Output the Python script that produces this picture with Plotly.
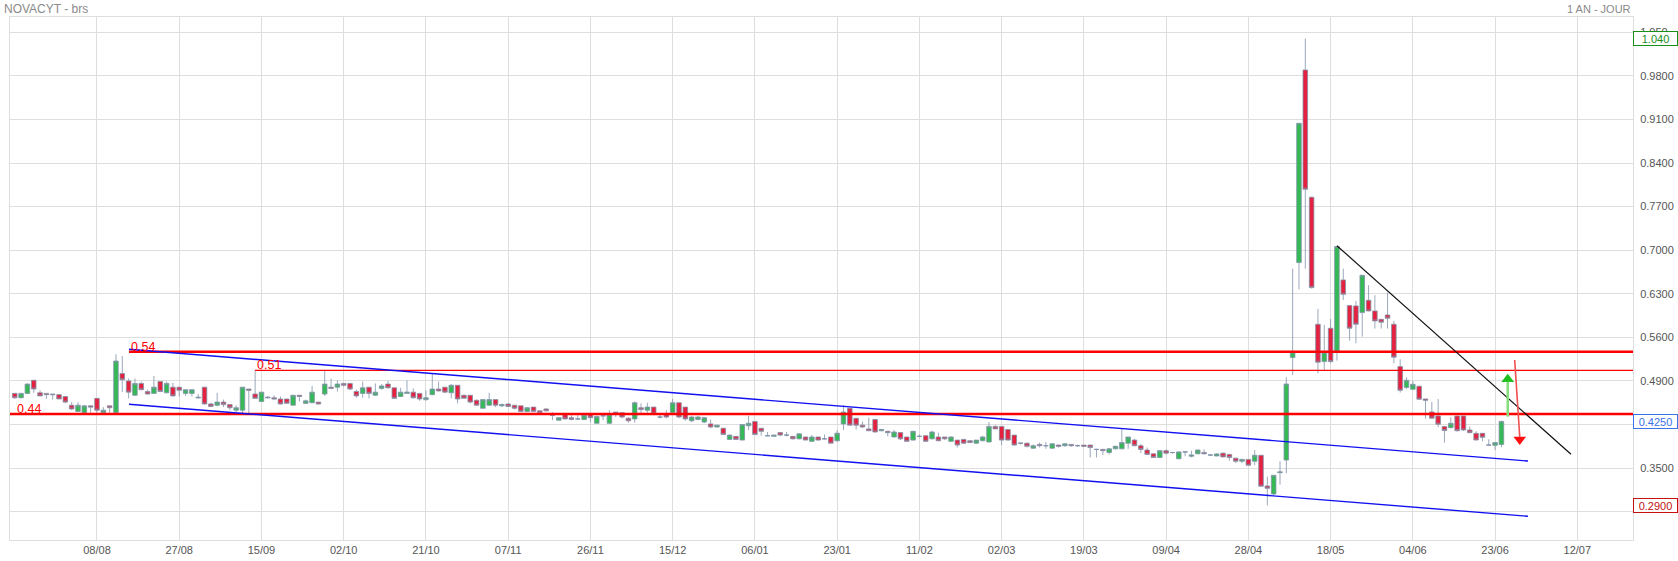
import plotly.graph_objects as go

# ---------------- data ----------------
OPEN = [
    0.470, 0.463, 0.470, 0.491, 0.471, 0.470, 0.469, 0.468, 0.465, 0.451,
    0.441, 0.439, 0.450, 0.462, 0.439, 0.450, 0.439, 0.502, 0.490, 0.467,
    0.486, 0.473, 0.470, 0.489, 0.471, 0.480, 0.480, 0.470, 0.470, 0.464,
    0.480, 0.453, 0.451, 0.456, 0.452, 0.443, 0.443, 0.477, 0.469, 0.457,
    0.464, 0.463, 0.461, 0.461, 0.451, 0.467, 0.454, 0.455, 0.456, 0.469,
    0.480, 0.480, 0.486, 0.486, 0.473, 0.470, 0.480, 0.467, 0.478, 0.485,
    0.479, 0.465, 0.470, 0.472, 0.470, 0.460, 0.468, 0.477, 0.480, 0.471,
    0.483, 0.467, 0.467, 0.459, 0.446, 0.451, 0.460, 0.450, 0.453, 0.451,
    0.450, 0.441, 0.448, 0.442, 0.445, 0.435, 0.427, 0.436, 0.431, 0.429,
    0.428, 0.436, 0.422, 0.434, 0.422, 0.440, 0.439, 0.430, 0.429, 0.447,
    0.443, 0.448, 0.432, 0.436, 0.439, 0.455, 0.448, 0.426, 0.428, 0.424,
    0.421, 0.416, 0.414, 0.396, 0.401, 0.395, 0.418, 0.425, 0.414, 0.402,
    0.401, 0.407, 0.403, 0.401, 0.397, 0.400, 0.393, 0.400, 0.397, 0.400,
    0.394, 0.421, 0.446, 0.430, 0.419, 0.413, 0.428, 0.410, 0.409, 0.400,
    0.407, 0.400, 0.395, 0.401, 0.402, 0.397, 0.400, 0.400, 0.393, 0.395,
    0.396, 0.394, 0.390, 0.394, 0.392, 0.417, 0.417, 0.412, 0.403, 0.390,
    0.390, 0.382, 0.388, 0.386, 0.382, 0.387, 0.386, 0.388, 0.386, 0.387,
    0.387, 0.380, 0.380, 0.375, 0.381, 0.381, 0.390, 0.395, 0.386, 0.379,
    0.373, 0.367, 0.378, 0.375, 0.365, 0.376, 0.369, 0.373, 0.375, 0.371,
    0.3695, 0.374, 0.372, 0.366, 0.361, 0.364, 0.361, 0.3706, 0.3213, 0.3084,
    0.3427, 0.3630, 0.5275, 0.6801, 0.9895, 0.7850, 0.5810, 0.5211, 0.5746, 0.5382,
    0.6522, 0.6110, 0.6105, 0.5998, 0.6196, 0.6024, 0.5891, 0.5960, 0.5810, 0.5131,
    0.4793, 0.4766, 0.4815, 0.4611, 0.4402, 0.4338, 0.4167, 0.4150, 0.4337, 0.4337,
    0.4112, 0.4059, 0.4059, 0.3871, 0.3866, 0.388,
]
HIGH = [
    0.471, 0.471, 0.486, 0.492, 0.475, 0.470, 0.469, 0.469, 0.465, 0.456,
    0.456, 0.451, 0.450, 0.462, 0.448, 0.450, 0.533, 0.530, 0.494, 0.494,
    0.489, 0.476, 0.498, 0.489, 0.489, 0.487, 0.480, 0.476, 0.476, 0.469,
    0.480, 0.455, 0.471, 0.460, 0.452, 0.451, 0.480, 0.477, 0.508, 0.472,
    0.466, 0.467, 0.465, 0.461, 0.467, 0.467, 0.460, 0.482, 0.456, 0.507,
    0.494, 0.491, 0.486, 0.486, 0.476, 0.489, 0.480, 0.486, 0.485, 0.490,
    0.479, 0.479, 0.491, 0.478, 0.470, 0.475, 0.501, 0.489, 0.480, 0.485,
    0.483, 0.468, 0.467, 0.460, 0.460, 0.471, 0.460, 0.454, 0.454, 0.451,
    0.450, 0.448, 0.448, 0.443, 0.446, 0.440, 0.432, 0.437, 0.435, 0.435,
    0.436, 0.436, 0.434, 0.435, 0.443, 0.440, 0.440, 0.432, 0.457, 0.454,
    0.455, 0.448, 0.437, 0.443, 0.461, 0.455, 0.448, 0.434, 0.434, 0.432,
    0.428, 0.419, 0.414, 0.404, 0.401, 0.420, 0.434, 0.425, 0.414, 0.408,
    0.403, 0.408, 0.408, 0.401, 0.406, 0.400, 0.403, 0.400, 0.404, 0.400,
    0.411, 0.451, 0.446, 0.430, 0.425, 0.431, 0.429, 0.413, 0.410, 0.411,
    0.407, 0.400, 0.410, 0.404, 0.402, 0.410, 0.407, 0.400, 0.401, 0.395,
    0.397, 0.395, 0.395, 0.402, 0.424, 0.419, 0.417, 0.412, 0.403, 0.391,
    0.391, 0.388, 0.391, 0.392, 0.390, 0.388, 0.390, 0.389, 0.388, 0.387,
    0.387, 0.381, 0.381, 0.382, 0.386, 0.413, 0.400, 0.397, 0.389, 0.383,
    0.373, 0.379, 0.380, 0.376, 0.377, 0.3765, 0.378, 0.380, 0.380, 0.3727,
    0.374, 0.375, 0.372, 0.366, 0.365, 0.364, 0.379, 0.371, 0.3363, 0.339,
    0.3609, 0.4958, 0.6704, 0.9040, 1.040, 0.786, 0.6057, 0.5800, 0.5896, 0.7069,
    0.6704, 0.611, 0.6185, 0.660, 0.6437, 0.6276, 0.5891, 0.6319, 0.5864, 0.5248,
    0.4959, 0.4900, 0.4815, 0.4611, 0.4563, 0.4611, 0.4175, 0.4316, 0.4337, 0.4337,
    0.4166, 0.4091, 0.406, 0.3962, 0.391, 0.4262,
]
LOW = [
    0.461, 0.462, 0.469, 0.471, 0.465, 0.461, 0.460, 0.461, 0.454, 0.443,
    0.440, 0.438, 0.439, 0.439, 0.438, 0.439, 0.438, 0.472, 0.462, 0.466,
    0.475, 0.468, 0.469, 0.472, 0.470, 0.465, 0.465, 0.466, 0.465, 0.462,
    0.452, 0.448, 0.449, 0.448, 0.443, 0.440, 0.438, 0.438, 0.461, 0.456,
    0.462, 0.460, 0.452, 0.453, 0.451, 0.457, 0.453, 0.454, 0.452, 0.466,
    0.477, 0.473, 0.481, 0.475, 0.463, 0.463, 0.462, 0.466, 0.476, 0.478,
    0.462, 0.464, 0.470, 0.462, 0.458, 0.458, 0.467, 0.473, 0.471, 0.462,
    0.454, 0.462, 0.454, 0.450, 0.446, 0.450, 0.448, 0.448, 0.448, 0.444,
    0.440, 0.440, 0.440, 0.438, 0.441, 0.427, 0.426, 0.428, 0.427, 0.427,
    0.427, 0.424, 0.421, 0.427, 0.421, 0.432, 0.430, 0.423, 0.423, 0.438,
    0.439, 0.435, 0.430, 0.430, 0.439, 0.430, 0.426, 0.424, 0.427, 0.422,
    0.414, 0.415, 0.404, 0.395, 0.395, 0.395, 0.411, 0.404, 0.402, 0.401,
    0.401, 0.401, 0.401, 0.396, 0.396, 0.395, 0.392, 0.394, 0.396, 0.390,
    0.392, 0.411, 0.418, 0.412, 0.415, 0.410, 0.407, 0.409, 0.401, 0.399,
    0.395, 0.392, 0.394, 0.399, 0.392, 0.396, 0.393, 0.395, 0.392, 0.383,
    0.389, 0.390, 0.389, 0.393, 0.391, 0.413, 0.387, 0.394, 0.386, 0.388,
    0.383, 0.381, 0.383, 0.381, 0.381, 0.383, 0.384, 0.384, 0.384, 0.384,
    0.367, 0.367, 0.371, 0.372, 0.380, 0.380, 0.381, 0.385, 0.374, 0.371,
    0.367, 0.366, 0.372, 0.373, 0.364, 0.369, 0.367, 0.372, 0.372, 0.3695,
    0.369, 0.367, 0.362, 0.358, 0.358, 0.354, 0.3545, 0.3205, 0.290, 0.3063,
    0.3234, 0.3416, 0.4997, 0.6372, 0.6704, 0.6383, 0.5023, 0.5077, 0.5184, 0.5227,
    0.6201, 0.5548, 0.5505, 0.5612, 0.602, 0.5741, 0.5741, 0.5741, 0.5184, 0.4713,
    0.4772, 0.476, 0.460, 0.4295, 0.4295, 0.4156, 0.3910, 0.4139, 0.4085, 0.410,
    0.406, 0.3941, 0.3930, 0.386, 0.379, 0.3834,
]
CLOSE = [
    0.463, 0.470, 0.485, 0.477, 0.466, 0.468, 0.468, 0.461, 0.456, 0.445,
    0.451, 0.450, 0.448, 0.443, 0.443, 0.447, 0.522, 0.492, 0.472, 0.486,
    0.476, 0.469, 0.480, 0.473, 0.486, 0.466, 0.475, 0.476, 0.476, 0.463,
    0.453, 0.449, 0.456, 0.452, 0.447, 0.447, 0.480, 0.475, 0.462, 0.472,
    0.463, 0.461, 0.453, 0.454, 0.467, 0.465, 0.458, 0.472, 0.453, 0.485,
    0.478, 0.485, 0.483, 0.477, 0.466, 0.479, 0.470, 0.472, 0.482, 0.479,
    0.462, 0.472, 0.472, 0.463, 0.461, 0.463, 0.477, 0.474, 0.472, 0.483,
    0.461, 0.462, 0.456, 0.451, 0.460, 0.460, 0.451, 0.452, 0.449, 0.446,
    0.441, 0.447, 0.441, 0.439, 0.442, 0.435, 0.431, 0.429, 0.428, 0.429,
    0.435, 0.431, 0.433, 0.434, 0.436, 0.438, 0.432, 0.426, 0.455, 0.444,
    0.448, 0.437, 0.432, 0.432, 0.455, 0.432, 0.429, 0.432, 0.432, 0.431,
    0.416, 0.419, 0.404, 0.403, 0.396, 0.420, 0.422, 0.404, 0.409, 0.402,
    0.403, 0.403, 0.403, 0.397, 0.405, 0.395, 0.400, 0.395, 0.397, 0.390,
    0.406, 0.440, 0.419, 0.419, 0.416, 0.410, 0.408, 0.412, 0.407, 0.408,
    0.397, 0.393, 0.409, 0.401, 0.393, 0.408, 0.394, 0.397, 0.400, 0.387,
    0.390, 0.391, 0.395, 0.400, 0.417, 0.413, 0.395, 0.395, 0.387, 0.390,
    0.385, 0.386, 0.386, 0.386, 0.389, 0.385, 0.389, 0.386, 0.386, 0.385,
    0.383, 0.380, 0.378, 0.381, 0.385, 0.391, 0.400, 0.386, 0.380, 0.372,
    0.367, 0.378, 0.374, 0.375, 0.376, 0.376, 0.371, 0.379, 0.373, 0.371,
    0.3727, 0.368, 0.367, 0.361, 0.364, 0.3545, 0.3706, 0.3208, 0.3175, 0.3384,
    0.3438, 0.4851, 0.5361, 0.9038, 0.7979, 0.6399, 0.5200, 0.5361, 0.5211, 0.7058,
    0.6292, 0.5746, 0.5810, 0.6597, 0.6024, 0.5864, 0.5843, 0.5907, 0.5281, 0.4750,
    0.4911, 0.4846, 0.4606, 0.4590, 0.4301, 0.4204, 0.4103, 0.4219, 0.4101, 0.4112,
    0.4069, 0.3952, 0.3994, 0.3871, 0.391, 0.425,
]

TICK_LABELS = ["08/08", "27/08", "15/09", "02/10", "21/10", "07/11", "26/11",
               "15/12", "06/01", "23/01", "11/02", "02/03", "19/03", "09/04",
               "28/04", "18/05", "04/06", "23/06", "12/07"]
TICK_START = 13
TICK_STEP = 13
X_RANGE = [-0.75, 255.8]
Y_RANGE = [0.2345, 1.0746]
Y_TICKS = [0.28, 0.35, 0.42, 0.49, 0.56, 0.63, 0.70, 0.77, 0.84, 0.91, 0.98, 1.05]
# 0.28 and 0.42 labels sit under the price tags in the reference, so they stay blank
Y_TICK_TEXT = ["", "0.3500", "", "0.4900", "0.5600", "0.6300",
               "0.7000", "0.7700", "0.8400", "0.9100", "0.9800", "1.050"]

# horizontal levels
LEVEL_PRICE = [0.537, 0.507, 0.437]
LEVEL_START = [18.06, 38.0, -0.75]
LEVEL_LABEL = ["0.54", "0.51", "0.44"]
LEVEL_WIDTH = [2.5, 1.3, 2.5]

CHANNEL_UPPER_X = [18.06, 239.2]
CHANNEL_UPPER_Y = [0.5408, 0.3614]
CHANNEL_LOWER_X = [18.06, 239.2]
CHANNEL_LOWER_Y = [0.4525, 0.2726]
RESIST_X = [209.0, 246.0]
RESIST_Y = [0.7072, 0.3722]

ARROW_UP_X = [236.0, 236.0]
ARROW_UP_Y = [0.4326, 0.4988]
ARROW_DN_X = [237.1, 237.9]
ARROW_DN_Y = [0.5237, 0.3900]

TAG_VALUES = [1.040, 0.425, 0.290]
TAG_TEXT = ["1.040", "0.4250", "0.2900"]
TAG_COLOR = ["#1a8f1a", "#3a72e8", "#c41010"]

GREEN = "#35b955"
RED = "#e5213f"
WICK = "#8193aa"
GRID = "#dedede"
FONT = "Liberation Sans, Arial, sans-serif"

# ---------------- figure ----------------
x_idx = list(range(len(OPEN)))

fig = go.Figure()
fig.add_trace(go.Candlestick(
    x=x_idx, open=OPEN, high=HIGH, low=LOW, close=CLOSE,
    increasing=dict(fillcolor=GREEN, line=dict(color=WICK, width=0.8)),
    decreasing=dict(fillcolor=RED, line=dict(color=WICK, width=0.8)),
    whiskerwidth=0, showlegend=False, hoverinfo="skip",
))

shapes = []
for p, x0, w in zip(LEVEL_PRICE, LEVEL_START, LEVEL_WIDTH):
    shapes.append(dict(type="line", xref="x", yref="y", x0=x0, x1=X_RANGE[1],
                       y0=p, y1=p, line=dict(color="#ff0000", width=w), layer="above"))
for xs, ys in [(CHANNEL_UPPER_X, CHANNEL_UPPER_Y), (CHANNEL_LOWER_X, CHANNEL_LOWER_Y)]:
    shapes.append(dict(type="line", xref="x", yref="y", x0=xs[0], x1=xs[1],
                       y0=ys[0], y1=ys[1], line=dict(color="#1010f0", width=1.4), layer="above"))
shapes.append(dict(type="line", xref="x", yref="y", x0=RESIST_X[0], x1=RESIST_X[1],
                   y0=RESIST_Y[0], y1=RESIST_Y[1], line=dict(color="#111111", width=1.2), layer="above"))
# arrow shafts
shapes.append(dict(type="line", xref="x", yref="y", x0=ARROW_UP_X[0], x1=ARROW_UP_X[1],
                   y0=ARROW_UP_Y[0], y1=ARROW_UP_Y[1] - 0.01, line=dict(color="#86e07a", width=2.5), layer="above"))
shapes.append(dict(type="line", xref="x", yref="y", x0=ARROW_DN_X[0], x1=ARROW_DN_X[1],
                   y0=ARROW_DN_Y[0], y1=ARROW_DN_Y[1] + 0.01, line=dict(color="#f05050", width=1.6), layer="above"))

# arrow heads
fig.add_trace(go.Scatter(x=[ARROW_UP_X[1]], y=[ARROW_UP_Y[1] - 0.006], mode="markers",
                         marker=dict(symbol="triangle-up", size=11, color="#1fbf1f"),
                         showlegend=False, hoverinfo="skip"))
fig.add_trace(go.Scatter(x=[ARROW_DN_X[1]], y=[ARROW_DN_Y[1] + 0.006], mode="markers",
                         marker=dict(symbol="triangle-down", size=11, color="#ff1010"),
                         showlegend=False, hoverinfo="skip"))

annotations = []
for p, x0, lab in zip(LEVEL_PRICE, LEVEL_START, LEVEL_LABEL):
    annotations.append(dict(x=max(x0, 0.0), y=p, xref="x", yref="y", text=lab,
                            showarrow=False, xanchor="left", yanchor="bottom", yshift=-4,
                            font=dict(family=FONT, size=12.5, color="#ff0000")))
for v, t, c in zip(TAG_VALUES, TAG_TEXT, TAG_COLOR):
    annotations.append(dict(x=1, y=v, xref="paper", yref="y", text=t, showarrow=False,
                            xanchor="left", yanchor="middle", width=43, height=13,
                            bgcolor="white", bordercolor=c, borderwidth=1, borderpad=0,
                            font=dict(family=FONT, size=11, color=c)))
annotations.append(dict(x=0, y=1, xref="paper", yref="paper", text="NOVACYT - brs",
                        showarrow=False, xanchor="left", yanchor="middle", xshift=-8, yshift=8,
                        font=dict(family=FONT, size=12, color="#8a8a8a")))
annotations.append(dict(x=1, y=1, xref="paper", yref="paper", text="1 AN - JOUR",
                        showarrow=False, xanchor="right", yanchor="middle", xshift=0, yshift=8,
                        font=dict(family=FONT, size=11, color="#8a8a8a")))

tickvals = [TICK_START + TICK_STEP * k for k in range(len(TICK_LABELS))]

fig.update_layout(
    width=1678, height=561,
    margin=dict(l=10, r=45, t=17, b=21, autoexpand=False),
    plot_bgcolor="white", paper_bgcolor="white",
    boxgap=0.28, boxgroupgap=0.0,
    shapes=shapes, annotations=annotations,
    xaxis=dict(range=X_RANGE, tickvals=tickvals, ticktext=TICK_LABELS,
               showgrid=True, gridcolor=GRID, gridwidth=1, automargin=False,
               showline=True, linecolor=GRID, mirror=True, zeroline=False,
               rangeslider=dict(visible=False), ticks="",
               tickfont=dict(family=FONT, size=11, color="#555555")),
    yaxis=dict(range=Y_RANGE, tickvals=Y_TICKS, ticktext=Y_TICK_TEXT, side="right",
               showgrid=True, gridcolor=GRID, gridwidth=1, automargin=False,
               showline=True, linecolor=GRID, mirror=True, zeroline=False, ticks="",
               ticklabelstandoff=4,
               tickfont=dict(family=FONT, size=11, color="#555555")),
)

fig.write_html("out.html")
